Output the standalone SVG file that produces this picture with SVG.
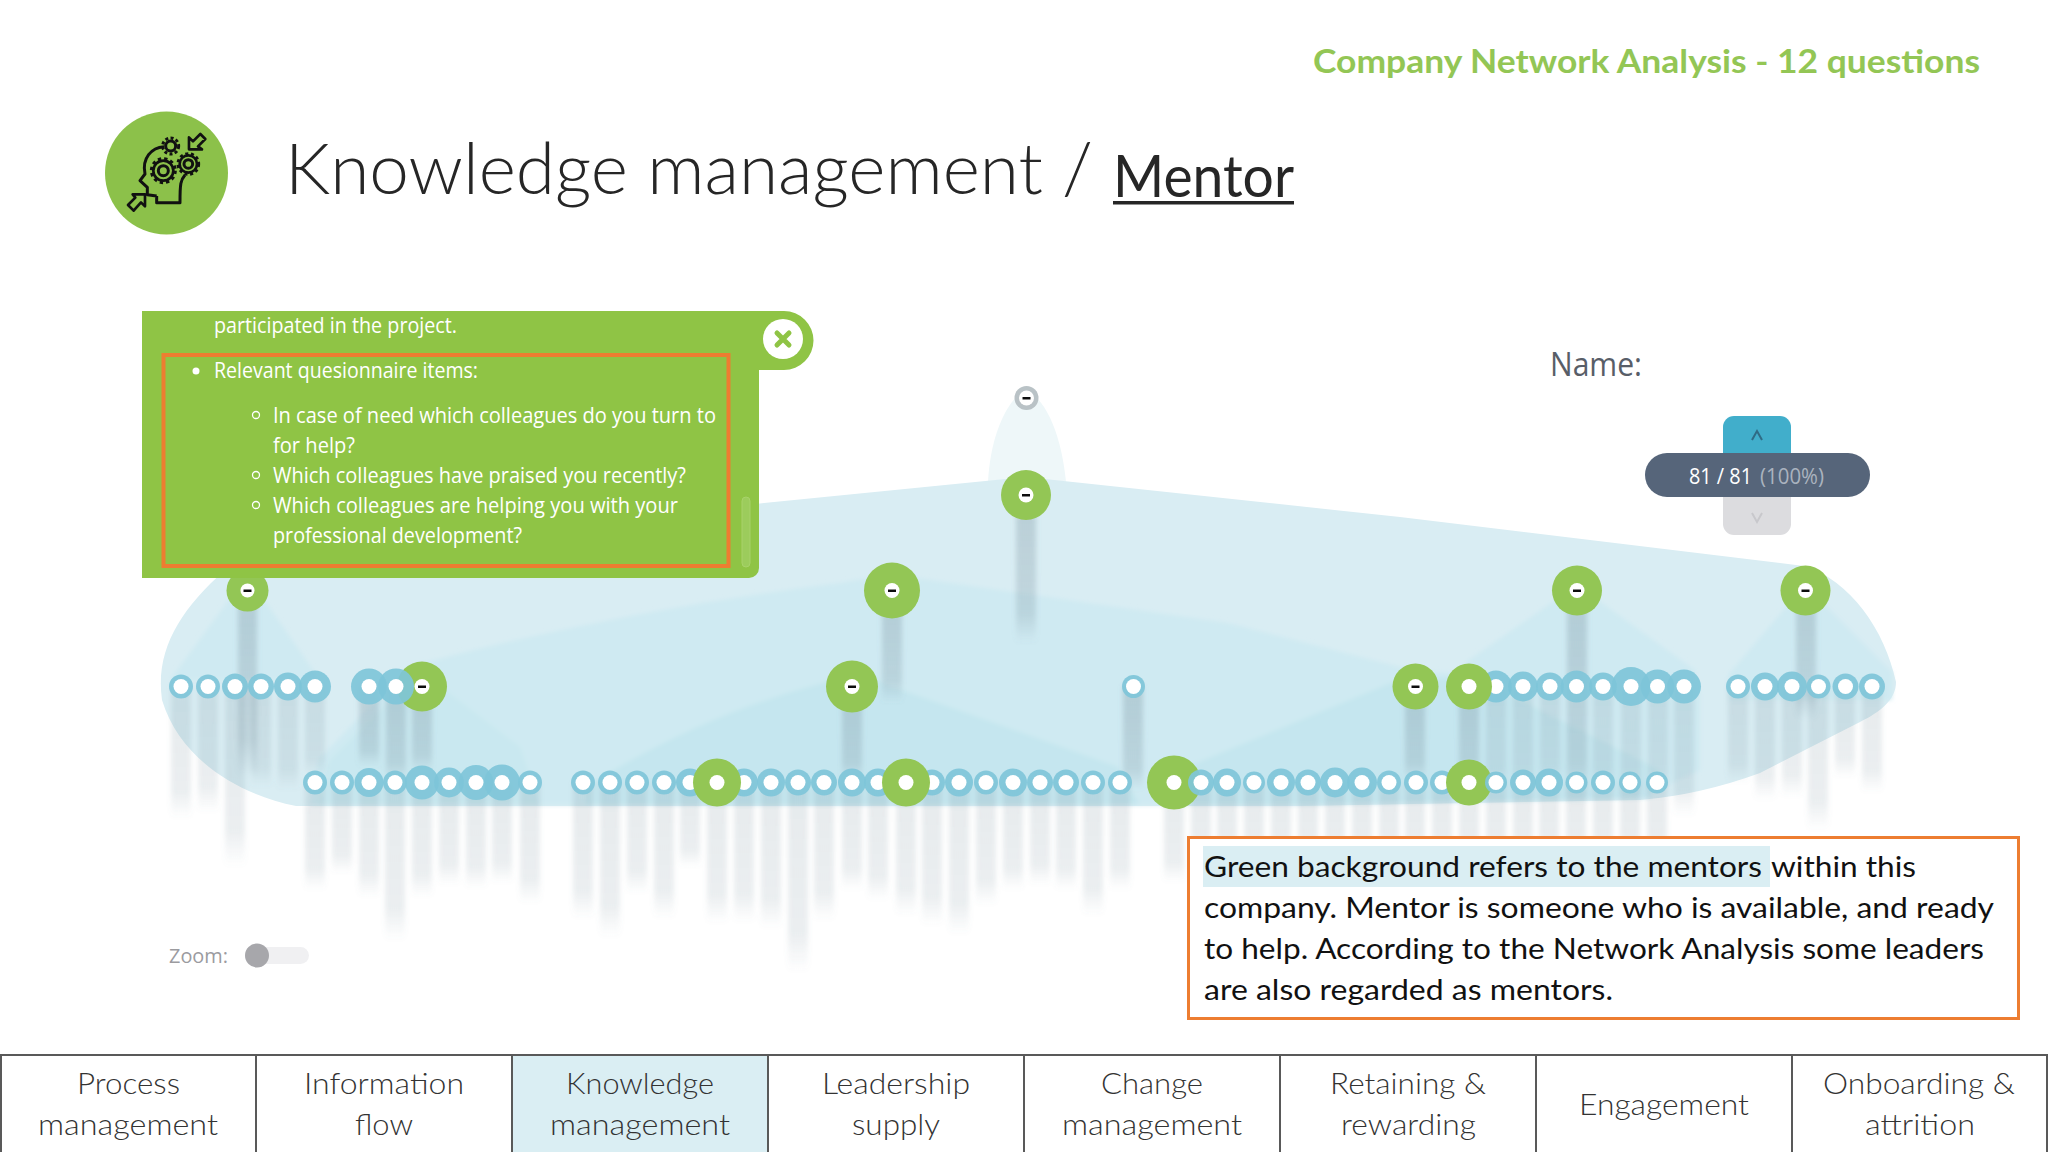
<svg xmlns="http://www.w3.org/2000/svg" width="2048" height="1152" viewBox="0 0 2048 1152">
<defs>
<linearGradient id="fade" x1="0" y1="0" x2="0" y2="1"><stop offset="0" stop-color="#6f8794" stop-opacity=".17"/><stop offset=".8" stop-color="#6f8794" stop-opacity=".14"/><stop offset="1" stop-color="#6f8794" stop-opacity="0"/></linearGradient>
<linearGradient id="fadeU" x1="0" y1="0" x2="0" y2="1"><stop offset="0" stop-color="#6f8794" stop-opacity=".3"/><stop offset=".8" stop-color="#6f8794" stop-opacity=".22"/><stop offset="1" stop-color="#6f8794" stop-opacity="0"/></linearGradient>
<filter id="blur" x="-30%" y="-5%" width="160%" height="110%"><feGaussianBlur stdDeviation="2.800"/></filter>
<filter id="soft" x="-5%" y="-5%" width="110%" height="110%"><feGaussianBlur stdDeviation="2"/></filter>
<filter id="px" x="-2%" y="-2%" width="104%" height="104%"><feGaussianBlur stdDeviation=".6"/></filter>
</defs>
<style>
.b{fill:url(#fade)}
.u{fill:url(#fadeU)}
.r{fill:#7fc5d9;fill-opacity:.92}
.g{fill:#93c655}
.w{fill:#fff}
.m{fill:#111}
.t{font-family:"Lato","Carlito","Liberation Sans",sans-serif;fill:#262626}
.p{font-family:"Open Sans","Liberation Sans",sans-serif;font-size:21px;fill:#fff}
.c{font-size:29px;fill:#333;font-weight:300}
.x{font-size:29px;fill:#111}
.ln{fill:none;stroke:#595959;stroke-width:2}
.ic{fill:none;stroke:#111;stroke-width:3;stroke-linejoin:round}
</style>
<rect width="2048" height="1152" fill="#fff"/>

<g id="header">
<text class="t" x="1313" y="73" font-size="32" font-weight="700" style="fill:#93c655" textLength="667" lengthAdjust="spacingAndGlyphs">Company Network Analysis - 12 questions</text>
<circle cx="166.500" cy="173" r="61.500" fill="#8cc14a"/>
<g transform="translate(90 100) scale(.3333)">
<path class="ic" style="stroke-width:9" d="M200 288L172 284L172 262L150 242L165 222C155 175 185 142 222 140M285 225C272 240 270 250 270 308L200 308L200 288"/>
<circle class="ic" style="stroke-width:9" cx="242" cy="138" r="15"/><circle cx="242" cy="138" r="24" fill="none" stroke="#111" stroke-width="9" stroke-dasharray="9 7"/>
<circle class="ic" style="stroke-width:9" cx="220" cy="212" r="15"/><circle class="ic" style="stroke-width:8" cx="220" cy="212" r="30"/><circle cx="220" cy="212" r="36" fill="none" stroke="#111" stroke-width="9" stroke-dasharray="10 9"/>
<circle class="ic" style="stroke-width:9" cx="295" cy="192" r="13"/><circle class="ic" style="stroke-width:8" cx="295" cy="192" r="26"/><circle cx="295" cy="192" r="31" fill="none" stroke="#111" stroke-width="9" stroke-dasharray="9 8"/>
<path class="ic" style="stroke-width:8" d="M297 148L297 112L309 124L331 102L346 117L324 139L336 148Z"/>
<path class="ic" style="stroke-width:8" d="M165 283L165 319L153 307L131 332L114 315L136 293L128 283Z"/>
</g>
<text class="t" x="285" y="194" font-size="71" font-weight="300" textLength="808" lengthAdjust="spacingAndGlyphs">Knowledge management /</text>
<text class="t" x="1113" y="197" font-size="59" textLength="181" lengthAdjust="spacingAndGlyphs">Mentor</text>
<rect x="1113" y="201" width="181" height="3.500" fill="#262626"/>
</g>

<g id="hulls">
<path fill="#eef7f9" d="M988 482C990 440 1005 400 1026 390C1048 400 1062 440 1066 482Z"/>
<path fill="#d9edf3" d="M1026 477L1400 517L1804 566C1850 580 1885 630 1896 682C1896 700 1880 712 1860 722L1760 773Q1700 795 1640 800L1300 806L296 806C240 795 180 760 162 700C155 650 180 610 225 570L764 503Z"/>
<g filter="url(#soft)">
<path fill="#cfeaf2" d="M247 575L320 680L170 680ZM1577 585L1695 670L1695 700L1466 700L1466 662ZM1805 585L1892 672L1892 700L1728 700L1728 675Z"/>
<path fill="#cfeaf2" d="M408 667Q620 610 840 583Q892 572 930 580L1228 623L1412 670L1700 690L1700 770L1640 798L1300 805L310 805L318 760Z"/>
<path fill="#c5e6ef" d="M586 787Q700 715 823 683L852 670L893 687L1118 767L1140 805L586 805ZM1187 767L1391 683L1469 675L1660 770L1650 798L1300 805L1187 805Z"/>
<path fill="#c9e8f0" d="M330 760L400 690L445 690L520 747L540 805L318 805Z"/>
</g>
</g>

<g id="connectors" filter="url(#blur)">
<rect class="u" x="238" y="590" width="19" height="187"/><rect class="b" x="171" y="686" width="20" height="132"/><rect class="b" x="198" y="686" width="20" height="126"/><rect class="b" x="225" y="686" width="20" height="181"/><rect class="b" x="251" y="686" width="20" height="101"/><rect class="b" x="278" y="686" width="20" height="104"/><rect class="b" x="305" y="686" width="20" height="91"/><rect class="u" x="359" y="686" width="20" height="81"/><rect class="u" x="386" y="686" width="20" height="96"/><rect class="u" x="412" y="686" width="20" height="87"/>
<rect class="b" x="305" y="782" width="20" height="108"/><rect class="b" x="332" y="782" width="20" height="91"/><rect class="b" x="359" y="782" width="20" height="115"/><rect class="b" x="385" y="782" width="20" height="158"/><rect class="b" x="412" y="782" width="20" height="115"/><rect class="b" x="439" y="782" width="20" height="103"/><rect class="b" x="466" y="782" width="20" height="106"/><rect class="b" x="492" y="782" width="20" height="101"/><rect class="b" x="520" y="782" width="20" height="121"/>
<rect class="b" x="573" y="782" width="20" height="136"/><rect class="b" x="600" y="782" width="20" height="155"/><rect class="b" x="627" y="782" width="20" height="111"/><rect class="b" x="654" y="782" width="20" height="136"/><rect class="b" x="680" y="782" width="20" height="85"/><rect class="b" x="707" y="782" width="20" height="141"/><rect class="b" x="734" y="782" width="20" height="140"/><rect class="b" x="761" y="782" width="20" height="146"/><rect class="b" x="788" y="782" width="20" height="190"/><rect class="b" x="814" y="782" width="20" height="138"/>
<rect class="b" x="842" y="782" width="20" height="108"/><rect class="b" x="868" y="782" width="20" height="118"/><rect class="b" x="896" y="782" width="20" height="133"/><rect class="b" x="922" y="782" width="20" height="143"/><rect class="b" x="949" y="782" width="20" height="152"/><rect class="b" x="976" y="782" width="20" height="123"/><rect class="b" x="1003" y="782" width="20" height="108"/><rect class="b" x="1030" y="782" width="20" height="103"/><rect class="b" x="1056" y="782" width="20" height="108"/><rect class="b" x="1083" y="782" width="20" height="133"/><rect class="b" x="1110" y="782" width="20" height="108"/><rect class="b" x="1164" y="782" width="20" height="100"/>
<rect class="b" x="1191" y="782" width="20" height="100"/><rect class="b" x="1217" y="782" width="20" height="100"/><rect class="b" x="1244" y="782" width="20" height="100"/><rect class="b" x="1271" y="782" width="20" height="100"/><rect class="b" x="1298" y="782" width="20" height="100"/><rect class="b" x="1325" y="782" width="20" height="100"/><rect class="b" x="1352" y="782" width="20" height="100"/><rect class="b" x="1379" y="782" width="20" height="100"/><rect class="b" x="1405" y="782" width="20" height="100"/><rect class="b" x="1432" y="782" width="20" height="100"/><rect class="b" x="1459" y="782" width="20" height="100"/><rect class="b" x="1486" y="782" width="20" height="100"/><rect class="b" x="1513" y="782" width="20" height="100"/><rect class="b" x="1539" y="782" width="20" height="100"/><rect class="b" x="1566" y="782" width="20" height="100"/><rect class="b" x="1593" y="782" width="20" height="100"/><rect class="b" x="1620" y="782" width="20" height="100"/><rect class="b" x="1647" y="782" width="20" height="100"/>
<rect class="u" x="882" y="590" width="20" height="113"/><rect class="u" x="1016" y="495" width="20" height="148"/><rect class="u" x="842" y="686" width="20" height="96"/><rect class="u" x="1123" y="686" width="20" height="104"/><rect class="u" x="1405" y="686" width="20" height="96"/><rect class="u" x="1459" y="686" width="20" height="96"/><rect class="b" x="1486" y="686" width="20" height="104"/><rect class="b" x="1513" y="686" width="20" height="110"/><rect class="b" x="1540" y="686" width="20" height="100"/><rect class="u" x="1567" y="590" width="20" height="215"/><rect class="b" x="1593" y="686" width="20" height="105"/><rect class="b" x="1621" y="686" width="20" height="115"/><rect class="b" x="1648" y="686" width="20" height="110"/><rect class="b" x="1674" y="686" width="20" height="130"/><rect class="u" x="1796" y="590" width="20" height="130"/>
<rect class="b" x="1728" y="686" width="20" height="97"/><rect class="b" x="1755" y="686" width="20" height="114"/><rect class="b" x="1782" y="686" width="20" height="111"/><rect class="b" x="1808" y="686" width="20" height="144"/><rect class="b" x="1835" y="686" width="20" height="91"/><rect class="b" x="1862" y="686" width="20" height="106"/>
</g>

<g id="nodes" filter="url(#px)">
<g id="a1"><circle class="r" cx="181" cy="686.500" r="12"/><circle class="w" cx="181" cy="686.500" r="7.500"/></g>
<g id="a2"><circle class="r" cx="208" cy="686.500" r="12"/><circle class="w" cx="208" cy="686.500" r="7.500"/></g>
<g id="a3"><circle class="r" cx="235" cy="686.500" r="13"/><circle class="w" cx="235" cy="686.500" r="7.500"/></g>
<g id="a4"><circle class="r" cx="261" cy="686.500" r="13"/><circle class="w" cx="261" cy="686.500" r="7.500"/></g>
<g id="a5"><circle class="r" cx="288" cy="686.500" r="14"/><circle class="w" cx="288" cy="686.500" r="7.500"/></g>
<g id="a6"><circle class="r" cx="315" cy="686.500" r="16"/><circle class="w" cx="315" cy="686.500" r="7.500"/></g>
<g id="a9"><circle class="g" cx="422" cy="686.500" r="25"/></g>
<g id="a7"><circle class="r" cx="369" cy="686.500" r="18"/><circle class="w" cx="369" cy="686.500" r="7.500"/></g>
<g id="a8"><circle class="r" cx="396" cy="686.500" r="18"/><circle class="w" cx="396" cy="686.500" r="7.500"/></g>
<g id="a9m"><circle class="w" cx="422" cy="686.500" r="7.500"/><rect class="m" x="418" y="685.500" width="8" height="2.500"/></g>

<g id="b1"><circle class="r" cx="315" cy="782.500" r="12"/><circle class="w" cx="315" cy="782.500" r="7.500"/></g>
<g id="b2"><circle class="r" cx="342" cy="782.500" r="12"/><circle class="w" cx="342" cy="782.500" r="7.500"/></g>
<g id="b3"><circle class="r" cx="369" cy="782.500" r="14.500"/><circle class="w" cx="369" cy="782.500" r="7.500"/></g>
<g id="b4"><circle class="r" cx="395" cy="782.500" r="12"/><circle class="w" cx="395" cy="782.500" r="7.500"/></g>
<g id="b5"><circle class="r" cx="422" cy="782.500" r="17"/><circle class="w" cx="422" cy="782.500" r="7.500"/></g>
<g id="b6"><circle class="r" cx="449" cy="782.500" r="15"/><circle class="w" cx="449" cy="782.500" r="7.500"/></g>
<g id="b7"><circle class="r" cx="476" cy="782.500" r="17.500"/><circle class="w" cx="476" cy="782.500" r="7.500"/></g>
<g id="b8"><circle class="r" cx="502" cy="782.500" r="18"/><circle class="w" cx="502" cy="782.500" r="7.500"/></g>
<g id="b9"><circle class="r" cx="530" cy="782.500" r="12"/><circle class="w" cx="530" cy="782.500" r="7.500"/></g>

<g id="c1"><circle class="r" cx="583" cy="782.500" r="12"/><circle class="w" cx="583" cy="782.500" r="7.500"/></g>
<g id="c2"><circle class="r" cx="610" cy="782.500" r="12"/><circle class="w" cx="610" cy="782.500" r="7.500"/></g>
<g id="c3"><circle class="r" cx="637" cy="782.500" r="12"/><circle class="w" cx="637" cy="782.500" r="7.500"/></g>
<g id="c4"><circle class="r" cx="664" cy="782.500" r="12"/><circle class="w" cx="664" cy="782.500" r="7.500"/></g>
<g id="c5"><circle class="r" cx="690" cy="782.500" r="14"/><circle class="w" cx="690" cy="782.500" r="7.500"/></g>
<g id="c7"><circle class="r" cx="744" cy="782.500" r="14"/><circle class="w" cx="744" cy="782.500" r="7.500"/></g>
<g id="c8"><circle class="r" cx="771" cy="782.500" r="14"/><circle class="w" cx="771" cy="782.500" r="7.500"/></g>
<g id="c9"><circle class="r" cx="798" cy="782.500" r="13"/><circle class="w" cx="798" cy="782.500" r="7.500"/></g>
<g id="c10"><circle class="r" cx="824" cy="782.500" r="13"/><circle class="w" cx="824" cy="782.500" r="7.500"/></g>
<g id="c12"><circle class="r" cx="852" cy="782.500" r="14"/><circle class="w" cx="852" cy="782.500" r="7.500"/></g>
<g id="c13"><circle class="r" cx="878" cy="782.500" r="14"/><circle class="w" cx="878" cy="782.500" r="7.500"/></g>
<g id="c15"><circle class="r" cx="932" cy="782.500" r="13"/><circle class="w" cx="932" cy="782.500" r="7.500"/></g>
<g id="c16"><circle class="r" cx="959" cy="782.500" r="14"/><circle class="w" cx="959" cy="782.500" r="7.500"/></g>
<g id="c17"><circle class="r" cx="986" cy="782.500" r="12"/><circle class="w" cx="986" cy="782.500" r="7.500"/></g>
<g id="c18"><circle class="r" cx="1013" cy="782.500" r="14"/><circle class="w" cx="1013" cy="782.500" r="7.500"/></g>
<g id="c19"><circle class="r" cx="1040" cy="782.500" r="13"/><circle class="w" cx="1040" cy="782.500" r="7.500"/></g>
<g id="c20"><circle class="r" cx="1066" cy="782.500" r="13"/><circle class="w" cx="1066" cy="782.500" r="7.500"/></g>
<g id="c21"><circle class="r" cx="1093" cy="782.500" r="12"/><circle class="w" cx="1093" cy="782.500" r="7.500"/></g>
<g id="c22"><circle class="r" cx="1120" cy="782.500" r="12"/><circle class="w" cx="1120" cy="782.500" r="7.500"/></g>
<g id="c6"><circle class="g" cx="717" cy="782.500" r="24"/><circle class="w" cx="717" cy="782.500" r="7.500"/></g>
<g id="c14"><circle class="g" cx="906" cy="782.500" r="24"/><circle class="w" cx="906" cy="782.500" r="7.500"/></g>
<g id="c23"><circle class="g" cx="1174" cy="782.500" r="27"/><circle class="w" cx="1174" cy="782.500" r="7.500"/></g>
<g id="d1"><circle class="r" cx="1201" cy="782.500" r="13"/><circle class="w" cx="1201" cy="782.500" r="7.500"/></g>
<g id="d2"><circle class="r" cx="1227" cy="782.500" r="14"/><circle class="w" cx="1227" cy="782.500" r="7.500"/></g>
<g id="d3"><circle class="r" cx="1254" cy="782.500" r="11"/><circle class="w" cx="1254" cy="782.500" r="7.500"/></g>
<g id="d4"><circle class="r" cx="1281" cy="782.500" r="14"/><circle class="w" cx="1281" cy="782.500" r="7.500"/></g>
<g id="d5"><circle class="r" cx="1308" cy="782.500" r="13"/><circle class="w" cx="1308" cy="782.500" r="7.500"/></g>
<g id="d6"><circle class="r" cx="1335" cy="782.500" r="15"/><circle class="w" cx="1335" cy="782.500" r="7.500"/></g>
<g id="d7"><circle class="r" cx="1362" cy="782.500" r="15"/><circle class="w" cx="1362" cy="782.500" r="7.500"/></g>
<g id="d8"><circle class="r" cx="1389" cy="782.500" r="12"/><circle class="w" cx="1389" cy="782.500" r="7.500"/></g>
<g id="d9"><circle class="r" cx="1416" cy="782.500" r="12"/><circle class="w" cx="1416" cy="782.500" r="7.500"/></g>
<g id="d10"><circle class="r" cx="1442" cy="782.500" r="12"/><circle class="w" cx="1442" cy="782.500" r="7.500"/></g>
<g id="d11"><circle class="g" cx="1469" cy="782.500" r="23"/><circle class="w" cx="1469" cy="782.500" r="7.500"/></g>
<g id="d12"><circle class="r" cx="1496" cy="782.500" r="11"/><circle class="w" cx="1496" cy="782.500" r="7.500"/></g>
<g id="d13"><circle class="r" cx="1523" cy="782.500" r="13"/><circle class="w" cx="1523" cy="782.500" r="7.500"/></g>
<g id="d14"><circle class="r" cx="1549" cy="782.500" r="14"/><circle class="w" cx="1549" cy="782.500" r="7.500"/></g>
<g id="d15"><circle class="r" cx="1576.500" cy="782.500" r="11"/><circle class="w" cx="1576.500" cy="782.500" r="7.500"/></g>
<g id="d16"><circle class="r" cx="1603" cy="782.500" r="12"/><circle class="w" cx="1603" cy="782.500" r="7.500"/></g>
<g id="d17"><circle class="r" cx="1630" cy="782.500" r="11"/><circle class="w" cx="1630" cy="782.500" r="7.500"/></g>
<g id="d18"><circle class="r" cx="1657" cy="782.500" r="11"/><circle class="w" cx="1657" cy="782.500" r="7.500"/></g>

<g id="e1"><circle class="r" cx="1133.500" cy="686.500" r="11.500"/><circle class="w" cx="1133.500" cy="686.500" r="7.500"/></g>
<g id="f1"><circle class="r" cx="1496" cy="686.500" r="16"/><circle class="w" cx="1496" cy="686.500" r="7.500"/></g>
<g id="f2"><circle class="r" cx="1523" cy="686.500" r="15"/><circle class="w" cx="1523" cy="686.500" r="7.500"/></g>
<g id="f3"><circle class="r" cx="1550" cy="686.500" r="14"/><circle class="w" cx="1550" cy="686.500" r="7.500"/></g>
<g id="f4"><circle class="r" cx="1576.500" cy="686.500" r="16"/><circle class="w" cx="1576.500" cy="686.500" r="7.500"/></g>
<g id="f5"><circle class="r" cx="1603" cy="686.500" r="14"/><circle class="w" cx="1603" cy="686.500" r="7.500"/></g>
<g id="f6"><circle class="r" cx="1631" cy="686.500" r="19.500"/><circle class="w" cx="1631" cy="686.500" r="7.500"/></g>
<g id="f7"><circle class="r" cx="1657.500" cy="686.500" r="17"/><circle class="w" cx="1657.500" cy="686.500" r="7.500"/></g>
<g id="f8"><circle class="r" cx="1684" cy="686.500" r="17"/><circle class="w" cx="1684" cy="686.500" r="7.500"/></g>
<g id="h1"><circle class="r" cx="1738" cy="686.500" r="12"/><circle class="w" cx="1738" cy="686.500" r="7.500"/></g>
<g id="h2"><circle class="r" cx="1765" cy="686.500" r="14"/><circle class="w" cx="1765" cy="686.500" r="7.500"/></g>
<g id="h3"><circle class="r" cx="1792" cy="686.500" r="15"/><circle class="w" cx="1792" cy="686.500" r="7.500"/></g>
<g id="h4"><circle class="r" cx="1818.500" cy="686.500" r="12"/><circle class="w" cx="1818.500" cy="686.500" r="7.500"/></g>
<g id="h5"><circle class="r" cx="1845.500" cy="686.500" r="13"/><circle class="w" cx="1845.500" cy="686.500" r="7.500"/></g>
<g id="h6"><circle class="r" cx="1872" cy="686.500" r="13"/><circle class="w" cx="1872" cy="686.500" r="7.500"/></g>

<g id="m1"><circle class="g" cx="247.500" cy="590.500" r="21"/><circle class="w" cx="247.500" cy="590.500" r="7"/><rect class="m" x="243.500" y="589.500" width="8" height="2.500"/></g>
<g id="m2"><circle class="g" cx="852" cy="686.500" r="26"/><circle class="w" cx="852" cy="686.500" r="7.500"/><rect class="m" x="848" y="685.500" width="8" height="2.500"/></g>
<g id="m3"><circle class="g" cx="892" cy="590.500" r="28"/><circle class="w" cx="892" cy="590.500" r="7.500"/><rect class="m" x="888" y="589.500" width="8" height="2.500"/></g>
<g id="m4"><circle class="g" cx="1026" cy="495" r="25"/><circle class="w" cx="1026" cy="495" r="7.500"/><rect class="m" x="1022" y="494" width="8" height="2.500"/></g>
<g id="m5"><circle fill="#b9c2c6" cx="1026.500" cy="398" r="12"/><circle class="w" cx="1026.500" cy="398" r="7.500"/><rect class="m" x="1022.500" y="397" width="8" height="2.500"/></g>
<g id="m6"><circle class="g" cx="1415.500" cy="686.500" r="23"/><circle class="w" cx="1415.500" cy="686.500" r="7.500"/><rect class="m" x="1411.500" y="685.500" width="8" height="2.500"/></g>
<g id="m7"><circle class="g" cx="1469" cy="686.500" r="23"/><circle class="w" cx="1469" cy="686.500" r="7.500"/></g>
<g id="m8"><circle class="g" cx="1577" cy="590.500" r="25"/><circle class="w" cx="1577" cy="590.500" r="7.500"/><rect class="m" x="1573" y="589.500" width="8" height="2.500"/></g>
<g id="m9"><circle class="g" cx="1805.500" cy="590.500" r="25"/><circle class="w" cx="1805.500" cy="590.500" r="7.500"/><rect class="m" x="1801.500" y="589.500" width="8" height="2.500"/></g>
</g>

<g id="info-panel">
<path fill="#8fc445" d="M142 311H784A29.500 29.500 0 0 1 784 370H759V568A10 10 0 0 1 749 578H142Z"/>
<circle cx="783" cy="339" r="20" fill="#fff"/>
<path d="M777 333L789 345M789 333L777 345" stroke="#8fc445" stroke-width="5" stroke-linecap="round"/>
<rect x="742" y="497" width="8" height="70" rx="4" fill="#9ccc5c" stroke="#a8d26a" stroke-width="1"/>
<rect x="163.500" y="355" width="565" height="211" fill="none" stroke="#ed7d31" stroke-width="4"/>
<text class="p" x="214" y="333" textLength="243" lengthAdjust="spacingAndGlyphs">participated in the project.</text>
<circle cx="196" cy="371" r="3.500" fill="#fff"/>
<text class="p" x="214" y="378" textLength="264" lengthAdjust="spacingAndGlyphs">Relevant quesionnaire items:</text>
<circle cx="256" cy="415" r="3.500" fill="none" stroke="#fff" stroke-width="1.300"/>
<text class="p" x="273" y="423" textLength="443" lengthAdjust="spacingAndGlyphs">In case of need which colleagues do you turn to</text>
<text class="p" x="273" y="453" textLength="82" lengthAdjust="spacingAndGlyphs">for help?</text>
<circle cx="256" cy="475" r="3.500" fill="none" stroke="#fff" stroke-width="1.300"/>
<text class="p" x="273" y="483" textLength="413" lengthAdjust="spacingAndGlyphs">Which colleagues have praised you recently?</text>
<circle cx="256" cy="505" r="3.500" fill="none" stroke="#fff" stroke-width="1.300"/>
<text class="p" x="273" y="513" textLength="405" lengthAdjust="spacingAndGlyphs">Which colleagues are helping you with your</text>
<text class="p" x="273" y="543" textLength="249" lengthAdjust="spacingAndGlyphs">professional development?</text>
</g>

<g id="name-label"><text x="1550" y="376" font-family="Open Sans, Liberation Sans, sans-serif" font-size="32" fill="#585e68" textLength="92" lengthAdjust="spacingAndGlyphs">Name:</text></g>

<g id="counter">
<rect x="1723" y="416" width="68" height="50" rx="11" fill="#41aecb"/>
<rect x="1723" y="485" width="68" height="50" rx="11" fill="#dcdcdf"/>
<path d="M1752 440L1757 431L1762 440" fill="none" stroke="#2f6b85" stroke-width="2"/>
<path d="M1752 513L1757 522L1762 513" fill="none" stroke="#c8c8cc" stroke-width="2"/>
<rect x="1645" y="453" width="225" height="44" rx="22" fill="#56657a"/>
<text x="1689" y="484" font-family="Open Sans, Liberation Sans, sans-serif" font-size="21" fill="#fff" textLength="63" lengthAdjust="spacingAndGlyphs">81 / 81</text>
<text x="1760" y="484" font-family="Open Sans, Liberation Sans, sans-serif" font-size="21" fill="#aab3bf" textLength="64" lengthAdjust="spacingAndGlyphs">(100%)</text>
</g>

<g id="zoom-control">
<text x="169" y="963" font-family="Open Sans, Liberation Sans, sans-serif" font-size="20" fill="#9b9b9f" textLength="59" lengthAdjust="spacingAndGlyphs">Zoom:</text>
<rect x="245" y="947" width="64" height="17" rx="8.500" fill="#f0f0f2"/>
<circle cx="257" cy="955.500" r="12" fill="#a7a7ab"/>
</g>

<g id="callout">
<rect x="1188.500" y="837.500" width="830" height="181" fill="#fff" stroke="#ed7d31" stroke-width="3"/>
<rect x="1203" y="846" width="567" height="41" fill="#daeef3"/>
<text class="t x" x="1204" y="877" textLength="558" lengthAdjust="spacingAndGlyphs">Green background refers to the mentors</text>
<text class="t x" x="1771" y="877" textLength="145" lengthAdjust="spacingAndGlyphs">within this</text>
<text class="t x" x="1204" y="918" textLength="790" lengthAdjust="spacingAndGlyphs">company. Mentor is someone who is available, and ready</text>
<text class="t x" x="1204" y="959" textLength="780" lengthAdjust="spacingAndGlyphs">to help. According to the Network Analysis some leaders</text>
<text class="t x" x="1204" y="1000" textLength="409" lengthAdjust="spacingAndGlyphs">are also regarded as mentors.</text>
</g>

<g id="tabs">
<rect x="512" y="1055" width="256" height="97" fill="#daeef3"/>
<path class="ln" d="M0 1055H2048M1 1055V1152M256 1055V1152M512 1055V1152M768 1055V1152M1024 1055V1152M1280 1055V1152M1536 1055V1152M1792 1055V1152M2047 1055V1152"/>
<text class="t c" x="77" y="1094" textLength="103" lengthAdjust="spacingAndGlyphs">Process</text>
<text class="t c" x="38" y="1135" textLength="180" lengthAdjust="spacingAndGlyphs">management</text>
<text class="t c" x="304" y="1094" textLength="160" lengthAdjust="spacingAndGlyphs">Information</text>
<text class="t c" x="355" y="1135" textLength="58" lengthAdjust="spacingAndGlyphs">flow</text>
<text class="t c" x="566" y="1094" textLength="148" lengthAdjust="spacingAndGlyphs">Knowledge</text>
<text class="t c" x="550" y="1135" textLength="180" lengthAdjust="spacingAndGlyphs">management</text>
<text class="t c" x="822" y="1094" textLength="148" lengthAdjust="spacingAndGlyphs">Leadership</text>
<text class="t c" x="852" y="1135" textLength="88" lengthAdjust="spacingAndGlyphs">supply</text>
<text class="t c" x="1101" y="1094" textLength="102" lengthAdjust="spacingAndGlyphs">Change</text>
<text class="t c" x="1062" y="1135" textLength="180" lengthAdjust="spacingAndGlyphs">management</text>
<text class="t c" x="1330" y="1094" textLength="156" lengthAdjust="spacingAndGlyphs">Retaining &amp;</text>
<text class="t c" x="1341" y="1135" textLength="135" lengthAdjust="spacingAndGlyphs">rewarding</text>
<text class="t c" x="1579" y="1115" textLength="170" lengthAdjust="spacingAndGlyphs">Engagement</text>
<text class="t c" x="1823" y="1094" textLength="192" lengthAdjust="spacingAndGlyphs">Onboarding &amp;</text>
<text class="t c" x="1865" y="1135" textLength="110" lengthAdjust="spacingAndGlyphs">attrition</text>
</g>
</svg>
